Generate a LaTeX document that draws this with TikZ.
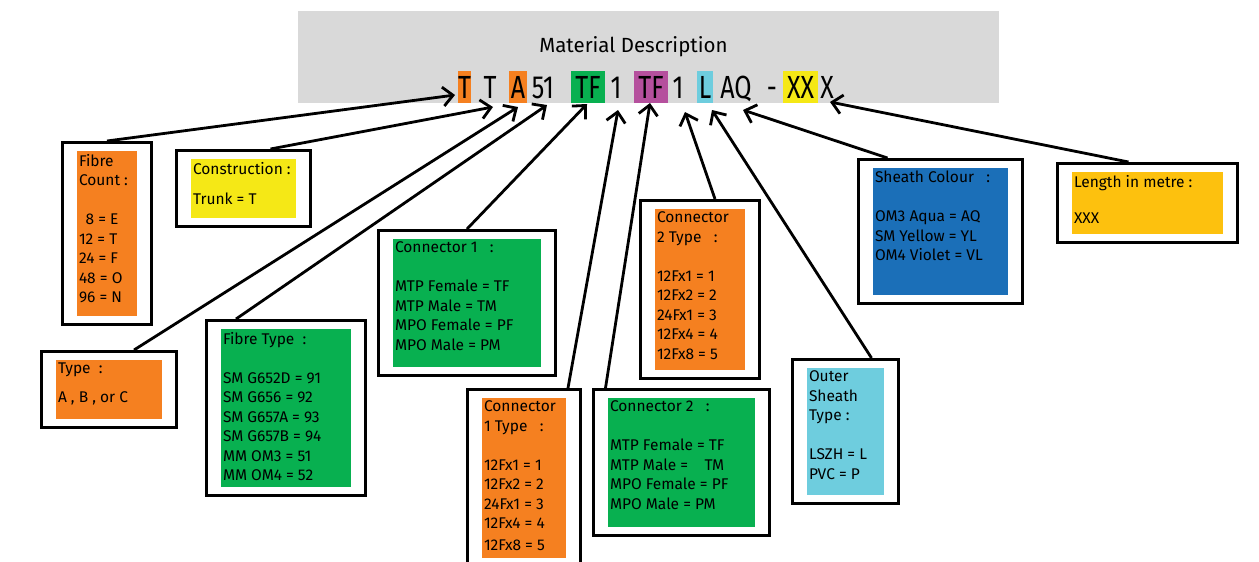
\documentclass[tikz,border=0pt]{standalone}
\usepackage{fontspec}
\setmainfont{Fira Sans}
\newfontfamily\codefont[FakeStretch=0.78]{Fira Sans}
\usepackage{tikz}
\usetikzlibrary{positioning, arrows.meta, calc, fit}
\usepackage{xcolor}
\definecolor{codeorange}{RGB}{245,128,32}
\definecolor{codeyellow}{RGB}{245,232,22}
\definecolor{codegreen}{RGB}{8,176,80}
\definecolor{codepurple}{RGB}{181,80,157}
\definecolor{codecyan}{RGB}{110,205,222}
\definecolor{codeblue}{RGB}{27,111,184}
\definecolor{codeamber}{RGB}{253,193,14}
\definecolor{headgrey}{RGB}{217,217,217}
\newcommand{\bodyfont}{\fontsize{15.5}{19.5}\selectfont}
\newcommand{\boxtext}[3]{\parbox[t][#2][t]{#1}{\raggedright #3}}

\begin{document}
\begin{tikzpicture}[x=1pt, y=-1pt,
  inbox/.style={fill=#1, inner xsep=2pt, inner ysep=3pt, outer sep=0pt,
                anchor=north west, font=\bodyfont},
  outbox/.style={draw, line width=3pt, inner xsep=14.5pt, inner ysep=8.5pt},
  codechar/.style={inner sep=0pt, outer sep=0pt, minimum height=32pt,
                   text height=22pt, text depth=0pt, font=\codefont\fontsize{32}{32}\selectfont},
  arr/.style={line width=2.8pt, -{Straight Barb[length=10pt, width=19pt]}},
]
  \clip (0,0) rectangle (1259,562);

  % header with the code
  \node[fill=headgrey, minimum width=701pt, minimum height=92pt, inner sep=0pt,
        anchor=north west] (hdr) at (298,11) {};
  \node[anchor=base, font=\fontsize{20.5}{20.5}\selectfont] (title) at (633.5,52) {Material Description};
  \foreach \cn/\cx/\cw/\ct/\cf in {%
    T1/464.5/12pt/T/codeorange, T2/490/12pt/T/none, A/518/18pt/A/codeorange,
    51/543/25pt/51/none, TFa/588/34pt/TF/codegreen, 1a/616/12pt/1/none,
    TFb/651/34pt/TF/codepurple, 1b/678/12pt/1/none, L/705/16pt/L/codecyan,
    AQ/736/36pt/AQ/none, dash/772/12pt/-/none, XX/800.5/35pt/XX/codeyellow,
    X/827/15pt/X/none%
  } {
    \node[codechar, fill=\cf, minimum width=\cw] (c\cn) at (\cx,87) {\ct};
  }

  % inner boxes
  \node[inbox=codeorange] (fc) at (77,151) {\boxtext{56pt}{159pt}{Fibre\\Count :\\[19.5pt]\phantom{1}8 = E\\12 = T\\24 = F\\48 = O\\96 = N}};
  \node[inbox=codeyellow] (con) at (191,159) {\boxtext{101pt}{53pt}{Construction :\\[10.5pt]Trunk = T}};
  \node[inbox=codeorange] (typ) at (56,360) {\boxtext{102pt}{53pt}{Type\ \ :\\[9.5pt]A , B , or C}};
  \node[inbox=codegreen] (ft) at (221,329) {\boxtext{126pt}{152pt}{Fibre Type\ \ :\\[19.5pt]SM G652D = 91\\SM G656 = 92\\SM G657A = 93\\SM G657B = 94\\MM OM3 = 51\\MM OM4 = 52}};
  \node[inbox=codegreen] (cone) at (393,239) {\boxtext{144pt}{122pt}{Connector 1\ \ \ :\\[19.5pt]MTP Female = TF\\MTP Male = TM\\MPO Female = PF\\MPO Male = PM}};
  \node[inbox=codeorange] (conet) at (482,398) {\boxtext{80pt}{154pt}{Connector\\1 Type\ \ \ :\\[19.5pt]12Fx1 = 1\\12Fx2 = 2\\24Fx1 = 3\\12Fx4 = 4\\[2pt]12Fx8 = 5}};
  \node[inbox=codegreen] (ctwo) at (608,398) {\boxtext{143pt}{123pt}{Connector 2\ \ \ :\\[19.5pt]MTP Female = TF\\MTP Male =\ \ \ \ TM\\MPO Female = PF\\MPO Male = PM}};
  \node[inbox=codeorange] (ctwot) at (655,209) {\boxtext{86pt}{155pt}{Connector\\2 Type\ \ \ :\\[19.5pt]12Fx1 = 1\\12Fx2 = 2\\24Fx1 = 3\\12Fx4 = 4\\12Fx8 = 5}};
  \node[inbox=codeblue] (sc) at (873,168) {\boxtext{131pt}{121pt}{Sheath Colour\ \ \ :\\[19.5pt]OM3 Aqua = AQ\\SM Yellow = YL\\OM4 Violet = VL}};
  \node[inbox=codeamber] (len) at (1072,172) {\boxtext{147pt}{56pt}{Length in metre :\\[17pt]XXX}};
  \node[inbox=codecyan] (os) at (807,368) {\boxtext{73pt}{121pt}{Outer\\Sheath\\Type :\\[19.5pt]LSZH = L\\PVC = P}};

  % outer frames
  \foreach \bn in {fc, con, typ, ft, cone, conet, ctwo, ctwot, sc, len, os}
    \node[outbox, fit=(\bn)] (\bn Box) {};

  % arrows to the code
  \draw[arr] (fcBox.north) -- ([shift={(-3,8)}]cT1.west);
  \draw[arr] ([xshift=27pt]conBox.north) -- ([shift={(3,4)}]cT2.south);
  \draw[arr] ([xshift=25pt]typBox.north) -- ([shift={(0,4)}]cA.south);
  \draw[arr] ([xshift=-50pt]ftBox.north) -- ([shift={(4,2)}]c51.south);
  \draw[arr] (coneBox.north) -- ([shift={(-1,1)}]cTFa.south);
  \draw[arr] ([xshift=44pt]conetBox.north) -- ([shift={(2,7)}]c1a.south);
  \draw[arr] ([xshift=-76pt]ctwoBox.north) -- ([shift={(-1,0)}]cTFb.south);
  \draw[arr] ([xshift=15pt]ctwotBox.north) -- ([shift={(7,9)}]c1b.south);
  \draw[arr] ([xshift=26pt]osBox.north) -- ([shift={(7,7)}]cL.south);
  \draw[arr] ([xshift=-53pt]scBox.north) -- ([shift={(7,7)}]cAQ.south);
  \draw[arr] ([xshift=-19pt]lenBox.north) -- ([shift={(3,-1)}]cX.south);
\end{tikzpicture}
\end{document}
